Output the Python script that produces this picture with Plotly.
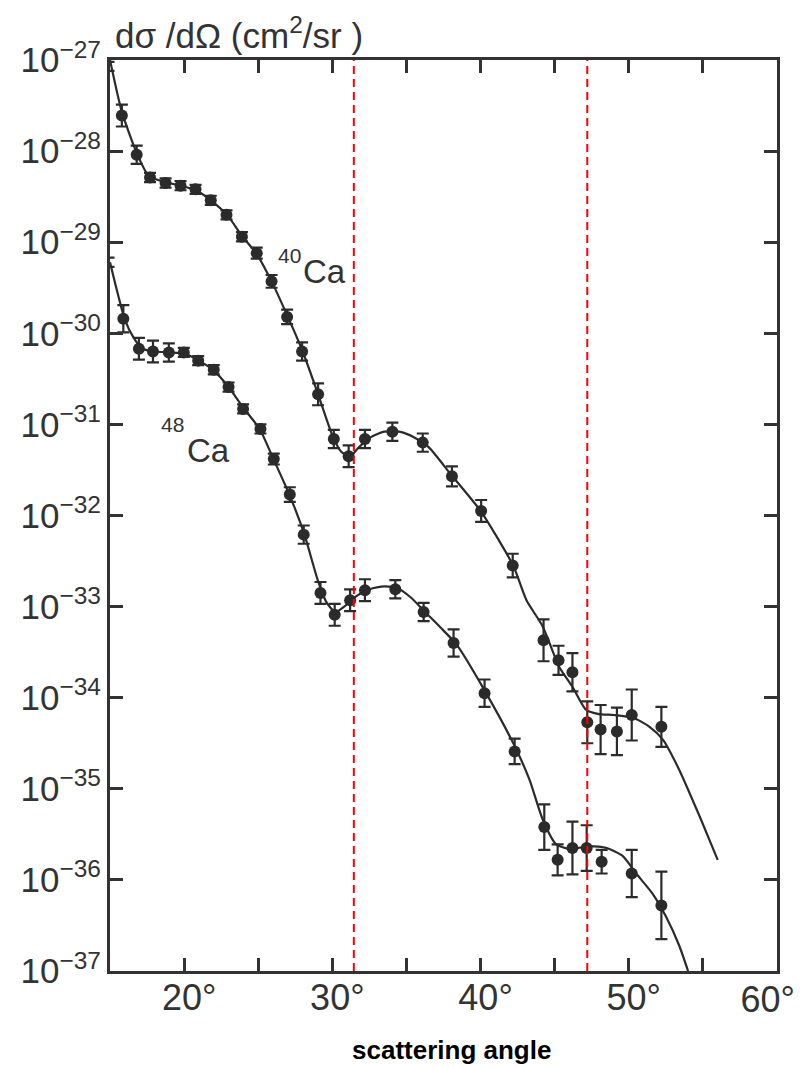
import plotly.graph_objects as go

# ---------------- data ----------------
# 40Ca measured points: angle (deg), log10 cross section, error (decades)
ca40_angle = [14.9, 15.8, 16.8, 17.7, 18.75, 19.76, 20.77, 21.8, 22.86, 23.9, 24.9, 25.9,
              26.95, 27.96, 29.04, 30.1, 31.1, 32.2, 34.05, 36.1, 38.07, 40.04, 42.17,
              44.25, 45.26, 46.2, 47.2, 48.1, 49.2, 50.2, 52.2]
ca40_logsig = [-27.07, -27.61, -28.04, -28.29, -28.35, -28.38, -28.42, -28.54, -28.70, -28.94, -29.12, -29.43,
               -29.82, -30.20, -30.67, -31.16, -31.35, -31.16, -31.08, -31.20, -31.57, -31.95, -32.55,
               -33.37, -33.59, -33.72, -34.27, -34.35, -34.37, -34.19, -34.32]
ca40_err = [0.05, 0.12, 0.10, 0.05, 0.05, 0.05, 0.05, 0.05, 0.05, 0.05, 0.06, 0.07,
            0.08, 0.10, 0.12, 0.10, 0.12, 0.10, 0.10, 0.10, 0.11, 0.12, 0.13,
            0.23, 0.16, 0.21, 0.23, 0.27, 0.26, 0.28, 0.22]

# 48Ca measured points
ca48_angle = [14.9, 15.9, 16.95, 17.9, 18.97, 19.98, 20.95, 22.0, 23.0, 23.98, 25.15, 26.05,
              27.13, 28.07, 29.2, 30.16, 31.2, 32.2, 34.25, 36.16, 38.18, 40.27, 42.3,
              44.3, 45.2, 46.2, 47.16, 48.17, 50.2, 52.2]
ca48_logsig = [-29.22, -29.84, -30.17, -30.20, -30.21, -30.21, -30.30, -30.40, -30.59, -30.83, -31.05, -31.38,
               -31.77, -32.21, -32.85, -33.09, -32.93, -32.82, -32.81, -33.06, -33.40, -33.95, -34.59,
               -35.42, -35.78, -35.65, -35.65, -35.80, -35.93, -36.28]
ca48_err = [0.05, 0.15, 0.12, 0.12, 0.10, 0.05, 0.05, 0.05, 0.05, 0.05, 0.05, 0.06,
            0.08, 0.10, 0.12, 0.12, 0.12, 0.12, 0.10, 0.10, 0.15, 0.15, 0.14,
            0.25, 0.17, 0.29, 0.25, 0.13, 0.26, 0.37]

# theory curves
ca40_fit_angle = [15.0, 15.8, 16.8, 17.6, 18.7, 19.8, 20.8, 21.8, 22.9, 23.9, 24.9, 25.9, 27.0, 28.0,
                  29.0, 30.0, 30.6, 31.2, 31.8, 32.6, 33.5, 34.5, 35.5, 36.5, 38.0, 40.0, 42.2, 43.1,
                  44.2, 45.3, 46.2, 47.1, 48.0, 49.0, 50.3, 51.4, 52.3, 53.4, 54.8, 56.0]
ca40_fit_logsig = [-27.0, -27.57, -28.02, -28.27, -28.34, -28.38, -28.43, -28.54, -28.70, -28.93, -29.13, -29.43,
                   -29.82, -30.20, -30.65, -31.12, -31.30, -31.35, -31.25, -31.14, -31.08, -31.08, -31.14,
                   -31.25, -31.55, -31.95, -32.55, -32.93, -33.22, -33.66, -33.88, -34.13, -34.18, -34.19,
                   -34.22, -34.32, -34.46, -34.79, -35.31, -35.78]

ca48_fit_angle = [15.0, 15.5, 16.0, 16.6, 17.2, 18.0, 19.0, 20.0, 21.0, 22.0, 23.0, 24.0, 25.1, 26.0,
                  27.1, 28.1, 29.0, 29.6, 30.2, 30.8, 31.5, 32.3, 33.3, 34.3, 35.3, 36.2, 37.3, 38.4,
                  40.2, 42.3, 43.3, 44.2, 45.1, 46.0, 47.35, 48.5, 49.6, 50.5, 51.6, 52.5, 53.4, 54.0]
ca48_fit_logsig = [-29.22, -29.55, -29.85, -30.05, -30.17, -30.20, -30.21, -30.22, -30.30, -30.41, -30.59,
                   -30.82, -31.05, -31.37, -31.77, -32.20, -32.70, -32.95, -33.06, -33.00, -32.90, -32.82,
                   -32.78, -32.79, -32.90, -33.05, -33.23, -33.42, -33.90, -34.53, -34.90, -35.34, -35.61,
                   -35.66, -35.63, -35.65, -35.74, -35.93, -36.15, -36.40, -36.72, -37.0]

# red dashed marker angles
marker_angles = [31.45, 47.2]

# axis ticks
x_tick_vals = [20, 25, 30, 35, 40, 45, 50, 55, 60]
x_tick_text = ["20°", "", "30°", "", "40°", "", "50°", "", ""]
x_edge_val = [60]
x_edge_text = ["60°"]
y_exponents = [-27, -28, -29, -30, -31, -32, -33, -34, -35, -36, -37]

# ---------------- figure ----------------
INK = "#2b2b2b"
AX = "#333"


def lin(v):
    return [10 ** a for a in v]


def errs(logs, e):
    up = [10 ** a * (10 ** d - 1) for a, d in zip(logs, e)]
    dn = [10 ** a * (1 - 10 ** (-d)) for a, d in zip(logs, e)]
    return up, dn


fig = go.Figure()

for fa, fl in [(ca40_fit_angle, ca40_fit_logsig), (ca48_fit_angle, ca48_fit_logsig)]:
    fig.add_trace(go.Scatter(x=fa, y=lin(fl), mode="lines",
                             line=dict(color=INK, width=2.2, shape="spline", smoothing=0.6),
                             hoverinfo="skip", showlegend=False))

for ang, lg, er in [(ca40_angle, ca40_logsig, ca40_err), (ca48_angle, ca48_logsig, ca48_err)]:
    up, dn = errs(lg, er)
    fig.add_trace(go.Scatter(x=ang, y=lin(lg), mode="markers",
                             marker=dict(color=INK, size=12),
                             error_y=dict(type="data", symmetric=False, array=up, arrayminus=dn,
                                          color=INK, thickness=2.2, width=6),
                             cliponaxis=False, showlegend=False))

# empty helper trace so the overlay axis carrying the "60°" edge label is drawn
fig.add_trace(go.Scatter(x=x_edge_val, y=[10 ** y_exponents[-1]], xaxis="x2", yaxis="y",
                         mode="markers", marker=dict(opacity=0, size=1),
                         hoverinfo="skip", showlegend=False))

for a in marker_angles:
    fig.add_shape(type="line", xref="x", yref="paper", x0=a, x1=a, y0=0, y1=1,
                  line=dict(color="red", width=2, dash="8px,5px"))

font_family = "Liberation Sans, Arial, sans-serif"

# the page body adds an 8px offset; the figure is sized so the plot frame
# lands at x 110..777, y 60..971 in the window
fig.update_layout(
    width=794, height=1060,
    margin=dict(l=102, r=25, t=52, b=97, autoexpand=False),
    paper_bgcolor="white", plot_bgcolor="white",
    font=dict(family=font_family, color=AX),
    xaxis=dict(range=[15, 60], tickvals=x_tick_vals, ticktext=x_tick_text,
               ticks="inside", ticklen=13, tickwidth=2.5, tickcolor=AX,
               showline=True, linewidth=3, linecolor=AX, mirror="ticks",
               showgrid=False, zeroline=False, automargin=False,
               tickfont=dict(size=36, color=AX), ticklabelshift=5,
               ticklabelstandoff=-7, ticklabeloverflow="allow"),
    xaxis2=dict(range=[15, 60], overlaying="x", anchor="y", side="bottom",
                tickvals=x_edge_val, ticktext=x_edge_text,
                ticks="", showline=False, showgrid=False, zeroline=False, automargin=False,
                tickfont=dict(size=36, color=AX), ticklabelposition="outside left",
                ticklabelshift=18, ticklabelstandoff=4, ticklabeloverflow="allow"),
    yaxis=dict(type="log", range=[-37, -27],
               tickvals=[10 ** e for e in y_exponents],
               ticktext=["10<sup>\u2212%d</sup>" % (-e) for e in y_exponents],
               ticks="inside", ticklen=13, tickwidth=2.5, tickcolor=AX,
               showline=True, linewidth=3, linecolor=AX, mirror="ticks",
               showgrid=False, zeroline=False, automargin=False,
               tickfont=dict(size=35, color=AX), ticklabelstandoff=-1,
               ticklabeloverflow="allow"),
)

ann = [
    dict(text="d\u03c3 /d\u03a9 (cm<sup>2</sup>/sr\u00a0)", x=0.004, y=1.03, xanchor="left",
         yanchor="middle", font=dict(size=35, color=AX)),
    dict(text="<b>scattering angle</b>", x=0.512, y=-0.087, xanchor="center", yanchor="middle",
         font=dict(size=26, color="black")),
    dict(text="40", x=0.269, y=0.785, xanchor="center", yanchor="middle", font=dict(size=21, color=AX)),
    dict(text="Ca", x=0.321, y=0.768, xanchor="center", yanchor="middle", font=dict(size=33, color=AX)),
    dict(text="48", x=0.094, y=0.600, xanchor="center", yanchor="middle", font=dict(size=21, color=AX)),
    dict(text="Ca", x=0.147, y=0.571, xanchor="center", yanchor="middle", font=dict(size=33, color=AX)),
]
for a in ann:
    fig.add_annotation(xref="paper", yref="paper", showarrow=False, **a)

fig.write_html("out.html")
